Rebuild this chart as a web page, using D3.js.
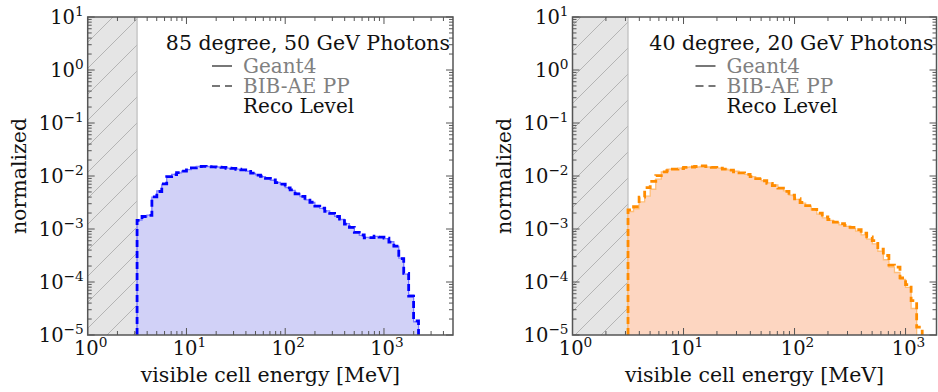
<!DOCTYPE html>
<html><head><meta charset="utf-8">
<script src="https://cdn.jsdelivr.net/npm/d3@7"></script>
<style>body{margin:0;background:#fff}</style>
</head><body><svg id="fig" width="938" height="392"></svg>
<script>
// Histogram binning: 20 log-spaced bins per decade, starting at the 10^0.5 MeV cell threshold
const binLogStart = 0.5;
const binsPerDecade = 20;
const thresholdMeV = Math.pow(10, 0.5);

const yTicks = [1e1, 1e0, 1e-1, 1e-2, 1e-3, 1e-4, 1e-5];
const yTickExp = ["1", "0", "\u22121", "\u22122", "\u22123", "\u22124", "\u22125"];
const xTicks = [1, 10, 100, 1000];
const xTickExp = ["0", "1", "2", "3"];

const titles = ["85 degree, 50 GeV Photons", "40 degree, 20 GeV Photons"];
const legendLabels = ["Geant4", "BIB-AE PP", "Reco Level"];
const xLabel = "visible cell energy [MeV]";
const yLabel = "normalized";
const xMaxMeV = [5000, 1900];

// normalized visible cell energy spectra
const geant4_85deg50GeV = [1.48e-3, 1.70e-3, 1.82e-3, 3.98e-3, 5.25e-3, 6.92e-3, 9.55e-3, 1.07e-2, 1.15e-2, 1.23e-2,
  1.32e-2, 1.41e-2, 1.51e-2, 1.51e-2, 1.51e-2, 1.48e-2, 1.48e-2, 1.45e-2, 1.41e-2, 1.38e-2,
  1.35e-2, 1.29e-2, 1.23e-2, 1.12e-2, 1.05e-2, 9.77e-3, 9.12e-3, 8.32e-3, 7.59e-3, 6.92e-3,
  6.03e-3, 5.37e-3, 4.68e-3, 4.07e-3, 3.55e-3, 3.16e-3, 2.75e-3, 2.45e-3, 2.19e-3, 1.95e-3,
  1.74e-3, 1.51e-3, 1.26e-3, 1.05e-3, 8.71e-4, 7.59e-4, 6.92e-4, 6.76e-4, 7.24e-4, 7.08e-4,
  6.61e-4, 5.75e-4, 4.68e-4, 2.82e-4, 1.41e-4, 5.62e-5, 1.78e-5];
const bibae_85deg50GeV = [1.45e-3, 1.72e-3, 1.80e-3, 4.05e-3, 5.10e-3, 7.10e-3, 9.70e-3, 1.06e-2, 1.16e-2, 1.24e-2,
  1.31e-2, 1.42e-2, 1.50e-2, 1.52e-2, 1.50e-2, 1.49e-2, 1.47e-2, 1.46e-2, 1.40e-2, 1.39e-2,
  1.34e-2, 1.30e-2, 1.22e-2, 1.13e-2, 1.04e-2, 9.90e-3, 9.00e-3, 8.40e-3, 7.50e-3, 7.00e-3,
  5.95e-3, 5.45e-3, 4.60e-3, 4.12e-3, 3.50e-3, 3.20e-3, 2.70e-3, 2.48e-3, 2.15e-3, 1.98e-3,
  1.72e-3, 1.53e-3, 1.24e-3, 1.07e-3, 8.60e-4, 7.70e-4, 6.80e-4, 6.90e-4, 7.30e-4, 7.00e-4,
  6.70e-4, 5.65e-4, 4.75e-4, 2.75e-4, 1.45e-4, 5.40e-5, 1.85e-5];
const geant4_40deg20GeV = [2.14e-3, 2.40e-3, 3.24e-3, 4.17e-3, 5.62e-3, 8.71e-3, 1.20e-2, 1.35e-2, 1.38e-2, 1.41e-2,
  1.45e-2, 1.48e-2, 1.48e-2, 1.51e-2, 1.48e-2, 1.45e-2, 1.41e-2, 1.35e-2, 1.29e-2, 1.23e-2,
  1.15e-2, 1.07e-2, 9.77e-3, 8.91e-3, 8.13e-3, 7.41e-3, 6.76e-3, 6.03e-3, 5.25e-3, 4.37e-3,
  3.63e-3, 3.09e-3, 2.69e-3, 2.29e-3, 1.91e-3, 1.62e-3, 1.45e-3, 1.32e-3, 1.20e-3, 1.12e-3,
  1.02e-3, 9.12e-4, 7.76e-4, 6.46e-4, 5.25e-4, 3.80e-4, 2.63e-4, 1.91e-4, 1.51e-4, 1.12e-4,
  7.94e-5, 3.16e-5];
const bibae_40deg20GeV = [2.29e-3, 2.63e-3, 3.98e-3, 6.03e-3, 7.94e-3, 1.02e-2, 1.20e-2, 1.26e-2, 1.35e-2, 1.38e-2,
  1.45e-2, 1.48e-2, 1.51e-2, 1.55e-2, 1.51e-2, 1.45e-2, 1.41e-2, 1.35e-2, 1.29e-2, 1.20e-2,
  1.15e-2, 1.07e-2, 9.77e-3, 8.91e-3, 8.13e-3, 7.24e-3, 6.61e-3, 5.89e-3, 5.13e-3, 4.37e-3,
  3.72e-3, 3.16e-3, 2.75e-3, 2.34e-3, 2.00e-3, 1.70e-3, 1.51e-3, 1.35e-3, 1.26e-3, 1.17e-3,
  1.07e-3, 9.77e-4, 8.32e-4, 7.08e-4, 6.03e-4, 4.17e-4, 3.16e-4, 2.09e-4, 1.91e-4, 1.20e-4,
  8.91e-5, 4.47e-5, 1.41e-5];

const panels = [
  {left: 87.7, right: 453, title: titles[0], xMax: xMaxMeV[0], g4: geant4_85deg50GeV, ae: bibae_85deg50GeV,
   fill: "#d1d1f7", solid: "#7b7bff", dashed: "#0000ff"},
  {left: 572.5, right: 936.5, title: titles[1], xMax: xMaxMeV[1], g4: geant4_40deg20GeV, ae: bibae_40deg20GeV,
   fill: "#fdd6c1", solid: "#ffbe7a", dashed: "#ff8c00"}
];
const plotTop = 17, plotBottom = 335;
const font = "'DejaVu Serif', serif";
const frameColor = "#555";
const textColor = "#111";

const svg = d3.select("#fig");
const defs = svg.append("defs");
const hatch = defs.append("pattern").attr("id", "hatch").attr("patternUnits", "userSpaceOnUse")
  .attr("width", 26).attr("height", 26);
hatch.append("rect").attr("width", 26).attr("height", 26).attr("fill", "#e5e5e5");
[[0, 26, 26, 0], [-6, 6, 6, -6], [20, 32, 32, 20]].forEach(l =>
  hatch.append("line").attr("x1", l[0]).attr("y1", l[1]).attr("x2", l[2]).attr("y2", l[3])
    .attr("stroke", "#b4b4b4").attr("stroke-width", 1));

function binEdge(i) { return Math.pow(10, binLogStart + i / binsPerDecade); }

function stepPoints(vals, x, y) {
  const y0 = y.range()[0];
  const pts = [[x(binEdge(0)), y0]];
  vals.forEach((v, i) => { pts.push([x(binEdge(i)), y(v)], [x(binEdge(i + 1)), y(v)]); });
  pts.push([x(binEdge(vals.length)), y0]);
  return pts;
}

function minorValues(domain) {
  const out = [];
  const k0 = Math.floor(Math.log10(domain[0])), k1 = Math.ceil(Math.log10(domain[1]));
  for (let k = k0; k <= k1; k++) for (let m = 2; m <= 9; m++) {
    const v = m * Math.pow(10, k);
    if (v > domain[0] && v < domain[1]) out.push(v);
  }
  return out;
}

function powText(sel, exp, size) {
  sel.append("tspan").text("10");
  sel.append("tspan").attr("dy", -size * 0.42).attr("font-size", size * 0.7).text(exp);
}

panels.forEach((p, pi) => {
  const x = d3.scaleLog().domain([1, p.xMax]).range([p.left, p.right]);
  const y = d3.scaleLog().domain([1e-5, 10]).range([plotBottom, plotTop]);
  const g = svg.append("g");
  const clipId = "clip" + pi;
  defs.append("clipPath").attr("id", clipId).append("rect")
    .attr("x", p.left).attr("y", plotTop).attr("width", p.right - p.left).attr("height", plotBottom - plotTop);
  const plot = g.append("g").attr("clip-path", `url(#${clipId})`);

  // region below the cell threshold
  plot.append("rect").attr("x", x(1)).attr("y", plotTop).attr("width", x(thresholdMeV) - x(1))
    .attr("height", plotBottom - plotTop).attr("fill", "url(#hatch)");
  plot.append("line").attr("x1", x(thresholdMeV)).attr("x2", x(thresholdMeV)).attr("y1", plotTop).attr("y2", plotBottom)
    .attr("stroke", "#bdbdbd").attr("stroke-width", 1.2);

  const line = d3.line();
  const g4pts = stepPoints(p.g4, x, y);
  plot.append("path").attr("d", line(g4pts) + "Z").attr("fill", p.fill).attr("stroke", "none");
  plot.append("path").attr("d", line(g4pts)).attr("fill", "none").attr("stroke", p.solid).attr("stroke-width", 1.3);
  plot.append("path").attr("d", line(stepPoints(p.ae, x, y))).attr("fill", "none")
    .attr("stroke", p.dashed).attr("stroke-width", 2.8).attr("stroke-dasharray", "7,4");

  // ticks on all four sides, pointing inward
  const tk = g.append("g").attr("stroke", frameColor).attr("stroke-width", 1);
  xTicks.forEach(v => {
    tk.append("line").attr("x1", x(v)).attr("x2", x(v)).attr("y1", plotBottom).attr("y2", plotBottom - 7);
    tk.append("line").attr("x1", x(v)).attr("x2", x(v)).attr("y1", plotTop).attr("y2", plotTop + 7);
  });
  minorValues(x.domain()).forEach(v => {
    tk.append("line").attr("x1", x(v)).attr("x2", x(v)).attr("y1", plotBottom).attr("y2", plotBottom - 4);
    tk.append("line").attr("x1", x(v)).attr("x2", x(v)).attr("y1", plotTop).attr("y2", plotTop + 4);
  });
  yTicks.forEach(v => {
    tk.append("line").attr("y1", y(v)).attr("y2", y(v)).attr("x1", p.left).attr("x2", p.left + 7);
    tk.append("line").attr("y1", y(v)).attr("y2", y(v)).attr("x1", p.right).attr("x2", p.right - 7);
  });
  minorValues(y.domain()).forEach(v => {
    tk.append("line").attr("y1", y(v)).attr("y2", y(v)).attr("x1", p.left).attr("x2", p.left + 4);
    tk.append("line").attr("y1", y(v)).attr("y2", y(v)).attr("x1", p.right).attr("x2", p.right - 4);
  });

  g.append("rect").attr("x", p.left).attr("y", plotTop).attr("width", p.right - p.left).attr("height", plotBottom - plotTop)
    .attr("fill", "none").attr("stroke", frameColor).attr("stroke-width", 1.5);

  // tick labels
  const tsz = 19.5;
  xTicks.forEach((v, i) => {
    const t = g.append("text").attr("x", x(v) + 3).attr("y", 355).attr("text-anchor", "middle")
      .attr("font-family", font).attr("font-size", tsz).attr("fill", textColor);
    powText(t, xTickExp[i], tsz);
  });
  yTicks.forEach((v, i) => {
    const t = g.append("text").attr("x", p.left - 4).attr("y", y(v) + 7).attr("text-anchor", "end")
      .attr("font-family", font).attr("font-size", tsz).attr("fill", textColor);
    powText(t, yTickExp[i], tsz);
  });

  // axis titles
  g.append("text").attr("x", (p.left + p.right) / 2).attr("y", 381.5).attr("text-anchor", "middle")
    .attr("font-family", font).attr("font-size", 20.5).attr("fill", textColor).text(xLabel);
  g.append("text").attr("transform", `translate(${p.left - 62},${(plotTop + plotBottom) / 2}) rotate(-90)`)
    .attr("text-anchor", "middle").attr("font-family", font).attr("font-size", 20.5).attr("fill", textColor).text(yLabel);

  // annotation and legend
  g.append("text").attr("x", p.right - 3).attr("y", 50).attr("text-anchor", "end")
    .attr("font-family", font).attr("font-size", 20.5).attr("fill", textColor).text(p.title);
  const lx = p.right - 210;
  g.append("line").attr("x1", lx - 31).attr("x2", lx - 11).attr("y1", 66).attr("y2", 66)
    .attr("stroke", "#777").attr("stroke-width", 2);
  g.append("line").attr("x1", lx - 31).attr("x2", lx - 11).attr("y1", 86).attr("y2", 86)
    .attr("stroke", "#777").attr("stroke-width", 2).attr("stroke-dasharray", "8,5");
  const legendBase = [73, 93, 112.5];
  legendLabels.forEach((lab, i) => {
    g.append("text").attr("x", lx).attr("y", legendBase[i]).attr("font-family", font).attr("font-size", 20)
      .attr("fill", i < 2 ? "#808080" : textColor).text(lab);
  });
});
</script></body></html>
